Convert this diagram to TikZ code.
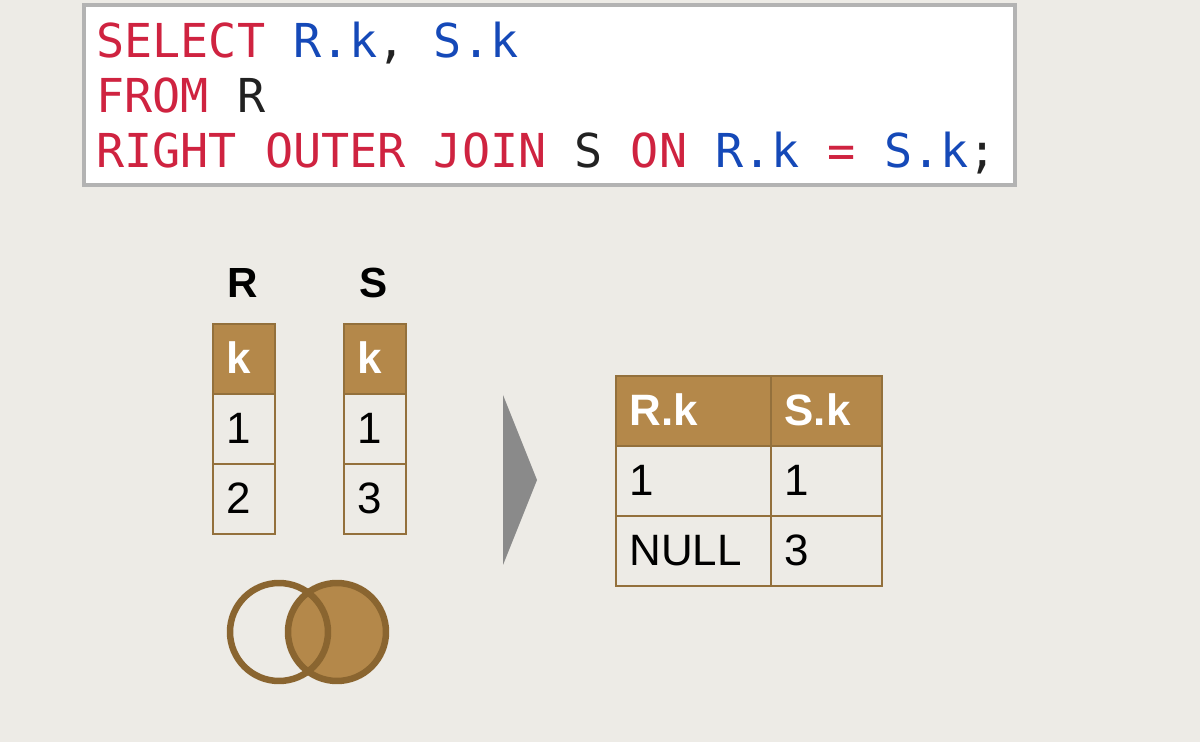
\documentclass[tikz,border=0pt]{standalone}
\usepackage{fontspec}
\setmainfont{Liberation Sans}
\newfontfamily\codefont{DejaVu Sans Mono}
\definecolor{bg}{HTML}{EDEBE6}
\definecolor{sqlred}{HTML}{CF2340}
\definecolor{sqlblue}{HTML}{1549B8}
\definecolor{ink}{HTML}{222222}
\definecolor{hdrfill}{HTML}{B4884A}
\definecolor{rule}{HTML}{93703C}
\definecolor{ring}{HTML}{8A6530}
\definecolor{arrowgray}{HTML}{8A8A8A}
\definecolor{boxline}{HTML}{B3B3B3}
\newcommand{\sqlkw}[1]{\textcolor{sqlred}{#1}}
\newcommand{\sqlid}[1]{\textcolor{sqlblue}{#1}}
\frenchspacing
\begin{document}
\begin{tikzpicture}[x=0.02cm, y=-0.02cm,
  codeline/.style={anchor=base west, inner sep=0pt, text=ink,
                        font=\codefont\fontsize{26.6}{30}\selectfont},
  tbl label/.style={anchor=base, inner sep=0pt, font=\bfseries\fontsize{24}{28}\selectfont},
  cell/.style={rectangle, draw=rule, line width=0.04cm, fill=bg, anchor=north west,
                        inner xsep=0.27cm, inner ysep=0pt, minimum height=1.4cm,
                        text height=0.6cm, text depth=0cm, align=left,
                        font=\fontsize{25}{28}\selectfont},
  hdr/.style={cell, fill=hdrfill, text=white, font=\bfseries\fontsize{25}{28}\selectfont}]
\useasboundingbox (0,0) rectangle (1200,742);
\fill[bg] (0,0) rectangle (1200,742);

% query box
\draw[boxline, line width=0.08cm, fill=white] (84,5) rectangle (1015,185);
\node[codeline] (q1) at (96,58) {\sqlkw{SELECT} \sqlid{R.k}, \sqlid{S.k}};
\node[codeline] (q2) at (96,113) {\sqlkw{FROM} R};
\node[codeline] (q3) at (96,168) {\sqlkw{RIGHT OUTER JOIN} S \sqlkw{ON} \sqlid{R.k} \sqlkw{=} \sqlid{S.k};};

% input tables
\node[tbl label] (rname) at (243,298) {R};
\node[tbl label] (sname) at (374,298) {S};
\node[hdr, text width=0.70cm] (r0) at (212,323) {k};
\node[cell, text width=0.70cm] (r1) at (212,393) {1};
\node[cell, text width=0.70cm] (r2) at (212,463) {2};
\node[hdr, text width=0.70cm] (s0) at (343,323) {k};
\node[cell, text width=0.70cm] (s1) at (343,393) {1};
\node[cell, text width=0.70cm] (s2) at (343,463) {3};

% venn
\fill[hdrfill] (337,632) circle (0.98cm);
\draw[ring, line width=0.13cm] (337,632) circle (0.98cm);
\draw[ring, line width=0.13cm] (279,632) circle (0.98cm);

% arrow
\fill[arrowgray] (503,395) -- (537,480) -- (503,565) -- cycle;

% result table
\node[hdr, text width=2.56cm] (a0) at (615,375) {R.k};
\node[hdr, text width=1.68cm] (b0) at (770,375) {S.k};
\node[cell, text width=2.56cm] (a1) at (615,445) {1};
\node[cell, text width=1.68cm] (b1) at (770,445) {1};
\node[cell, text width=2.56cm] (a2) at (615,515) {NULL};
\node[cell, text width=1.68cm] (b2) at (770,515) {3};
\end{tikzpicture}
\end{document}
